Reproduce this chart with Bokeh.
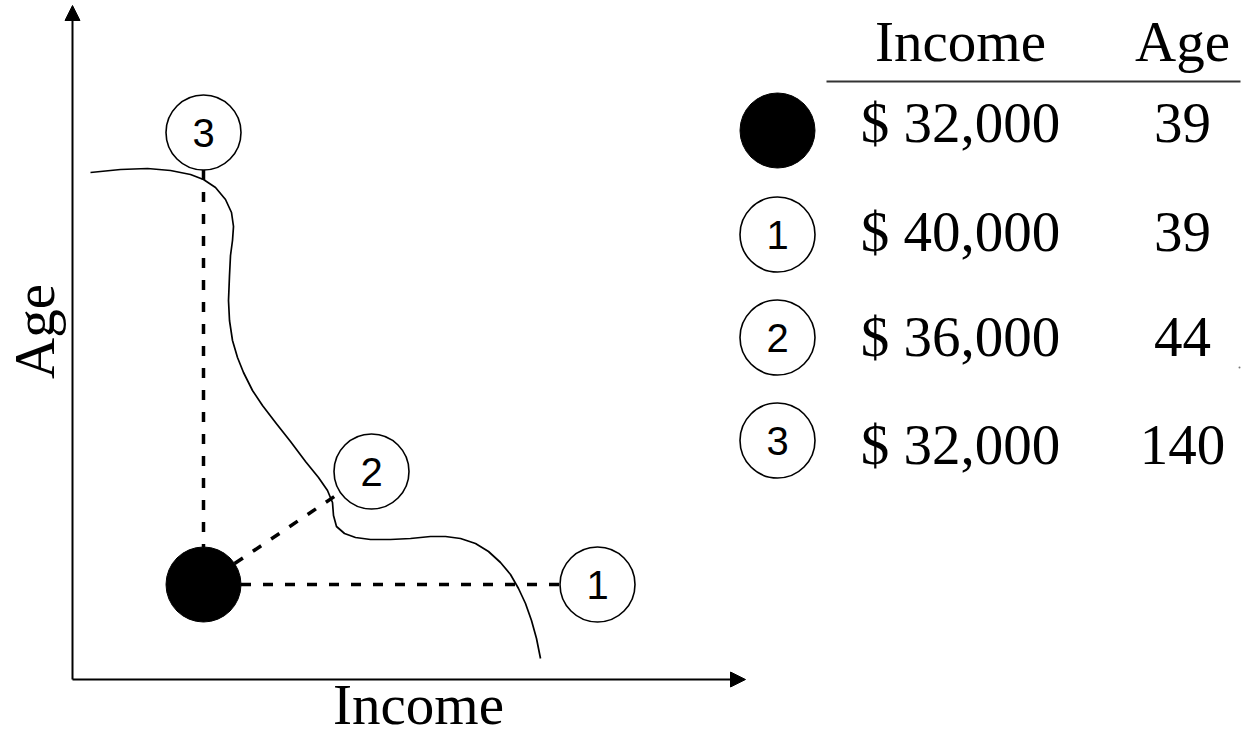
import numpy as np
from bokeh.plotting import figure
from bokeh.models import Range1d, Arrow, NormalHead
from bokeh.core.properties import value
from bokeh.embed import file_html
from bokeh.resources import INLINE

# ---- data ----
point_labels = ["", "1", "2", "3"]          # "" = the reference (black) point
incomes = [32000, 40000, 36000, 32000]
ages = [39, 39, 44, 140]
col_headers = ["Income", "Age"]
axis_titles = ["Income", "Age"]

# ---- schematic layout (page pixels) ----
pt_x = [203, 597, 371, 203]
pt_y = [584, 584, 471, 132]
curve_x = [90, 120, 147, 170, 190, 203, 215, 225, 231, 233, 232, 230, 229, 228,
           229, 232, 237, 243, 252, 262, 275, 290, 305, 318, 327, 332, 333, 336,
           344, 355, 370, 390, 410, 430, 445, 460, 475, 488, 500, 510, 518, 525,
           531, 536, 540]
curve_y = [172, 169, 168, 170, 174, 179, 187, 199, 212, 226, 240, 255, 275, 300,
           320, 340, 357, 372, 390, 405, 422, 441, 461, 477, 490, 502, 515, 526,
           533, 537, 539, 539, 538, 536, 536, 538, 543, 551, 562, 574, 588, 603,
           620, 638, 658]
row_y = [130, 234, 337, 440]
row_mid = [122, 231, 336, 444]
marker_x = 777
income_col_x = 960
age_col_x = 1182

W, H = 1243, 738
p = figure(width=W, height=H, x_range=Range1d(0, W), y_range=Range1d(H, 0),
           output_backend="svg", toolbar_location=None,
           x_axis_location=None, y_axis_location=None, min_border=0,
           outline_line_color=None, background_fill_color="white")
p.grid.visible = False

SERIF = value("Liberation Serif")
SANS = value("Liberation Sans")
R = 37.5
FS = "57px"

# axes with arrowheads
p.add_layout(Arrow(end=NormalHead(size=15, fill_color="black", line_color="black", line_width=1),
                   x_start=72, y_start=679, x_end=72, y_end=5,
                   line_width=2, line_color="black"))
p.add_layout(Arrow(end=NormalHead(size=15, fill_color="black", line_color="black", line_width=1),
                   x_start=72, y_start=679, x_end=745, y_end=679,
                   line_width=2, line_color="black"))

# curve
p.line(curve_x, curve_y, line_color="black", line_width=1.7, line_join="round")

# dashed links
cx, cy = pt_x[0], pt_y[0]
x0s, y0s, x1s, y1s = [], [], [], []
for i in (1, 2):
    dx, dy = pt_x[i] - cx, pt_y[i] - cy
    d = np.hypot(dx, dy)
    ux, uy = dx / d, dy / d
    x0s.append(cx + R * ux); y0s.append(cy + R * uy)
    x1s.append(pt_x[i] - R * ux); y1s.append(pt_y[i] - R * uy)
dx, dy = cx - pt_x[3], cy - pt_y[3]
d = np.hypot(dx, dy)
ux, uy = dx / d, dy / d
x0s.append(pt_x[3] + R * ux); y0s.append(pt_y[3] + R * uy)
x1s.append(cx - R * ux); y1s.append(cy - R * uy)
p.segment(x0s, y0s, x1s, y1s, line_color="black", line_width=3.5, line_dash="10 12")

# diagram points
p.scatter([pt_x[0]], [pt_y[0]], size=2 * R, fill_color="black", line_color="black")
p.scatter(pt_x[1:], pt_y[1:], size=2 * R, fill_color="white", line_color="black", line_width=1.6)
p.text(pt_x[1:], pt_y[1:], text=point_labels[1:], text_font=SANS,
       text_font_size="40px", text_align="center", text_baseline="middle", text_color="black")

# axis titles
p.text([418], [704], text=[axis_titles[0]], text_font=SERIF, text_font_size=FS,
       text_align="center", text_baseline="middle", text_color="black")
p.text([34], [331], text=[axis_titles[1]], text_font=SERIF, text_font_size=FS,
       text_align="center", text_baseline="middle", text_color="black", angle=np.pi / 2)

# table
p.text([income_col_x, age_col_x], [41, 41], text=col_headers, text_font=SERIF,
       text_font_size=FS, text_align="center", text_baseline="middle", text_color="black")
p.segment([826], [81], [1240], [81], line_color="#333333", line_width=2.2)
p.scatter([marker_x], [row_y[0]], size=2 * R, fill_color="black", line_color="black")
p.scatter([marker_x] * 3, row_y[1:], size=2 * R, fill_color="white", line_color="black", line_width=1.6)
p.text([marker_x] * 3, row_y[1:], text=point_labels[1:], text_font=SANS,
       text_font_size="40px", text_align="center", text_baseline="middle", text_color="black")
p.text([income_col_x] * 4, row_mid, text=[f"$ {v:,}" for v in incomes], text_font=SERIF,
       text_font_size=FS, text_align="center", text_baseline="middle", text_color="black")
p.text([age_col_x] * 4, row_mid, text=[str(a) for a in ages], text_font=SERIF,
       text_font_size=FS, text_align="center", text_baseline="middle", text_color="black")
p.scatter([1239], [367], size=2, fill_color="#777777", line_color=None)

open("out.html", "w").write(file_html(p, INLINE))
